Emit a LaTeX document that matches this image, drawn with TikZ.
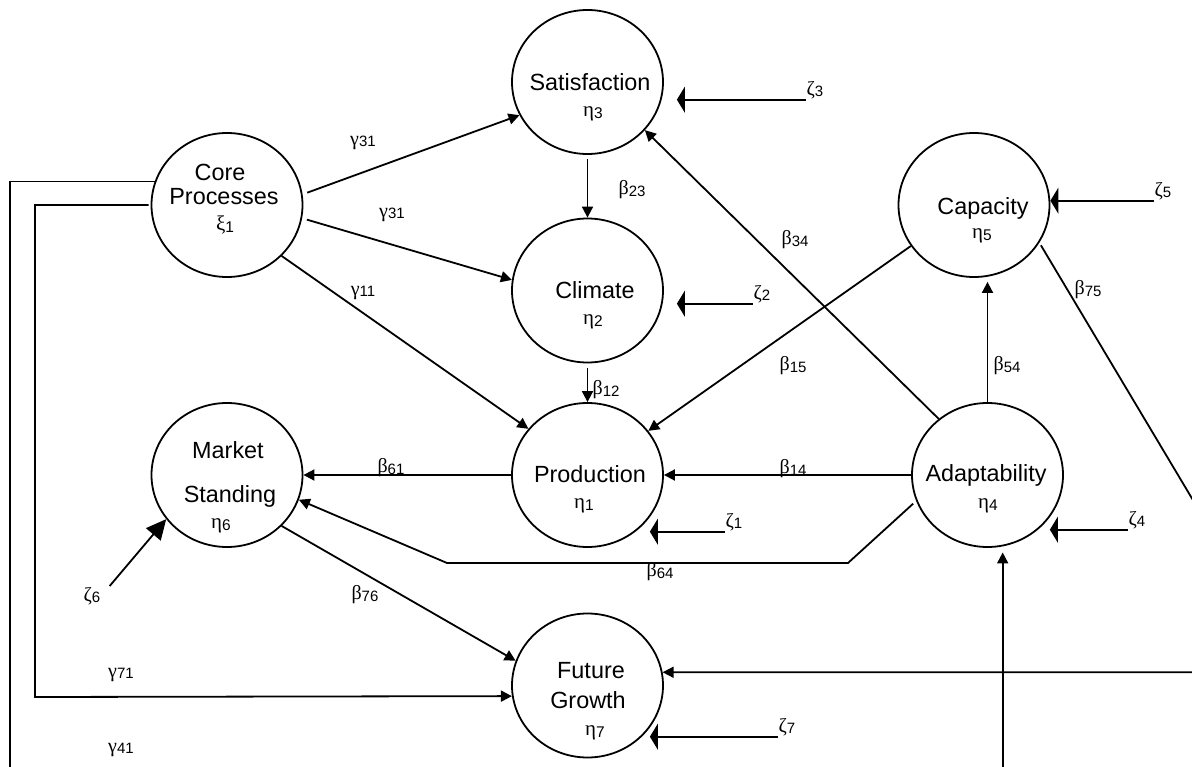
\documentclass[tikz,border=0pt]{standalone}
\usepackage{fontspec}
\setmainfont{Liberation Sans}
\newfontfamily\grkfont{Liberation Serif}
\usetikzlibrary{arrows.meta,shapes.geometric}
\newcommand{\glab}[2]{{\grkfont\fontsize{20}{20}\selectfont #1}\raisebox{-1.5pt}{\fontsize{15}{15}\selectfont #2}}
\newcommand{\gcir}[2]{{\grkfont\fontsize{21}{21}\selectfont #1}\raisebox{-2pt}{\fontsize{15.5}{15.5}\selectfont #2}}
\begin{document}
\begin{tikzpicture}[x=1pt,y=-1pt,line width=1.8pt,
  lv/.style={draw,ellipse,minimum width=151pt,minimum height=144pt,inner sep=0pt},
  tx/.style={font=\fontsize{23.4}{28}\selectfont,inner sep=0pt},
  lab/.style={inner sep=0pt},
  arr/.style={-{Triangle[length=11pt,width=11pt]}},
  zarr/.style={-{Triangle[length=8pt,width=26pt]}},
  zarrb/.style={-{Triangle[length=20pt,width=19pt]}}]
\useasboundingbox (0,0) rectangle (1192,767);
\clip (0,0) rectangle (1192,767);
\fill[white] (0,0) rectangle (1192,767);

% latent variables
\node[lv] (core)  at (227,205)   {};
\node[lv] (sat)   at (587.5,82)  {};
\node[lv] (cli)   at (587.5,290.5) {};
\node[lv] (cap)   at (974,205)   {};
\node[lv] (prod)  at (587.5,475) {};
\node[lv] (adapt) at (987.5,475) {};
\node[lv] (mkt)   at (227,475)   {};
\node[lv] (fut)   at (587.5,685.5) {};

% texts inside
\node[tx] (tcore1) at (220,172) {Core};
\node[tx] (tcore2) at (224,197) {Processes};
\node[lab] (tcore3) at (225,225) {\gcir{ξ}{1}};
\node[tx] (tsat1) at (590,82) {Satisfaction};
\node[lab] (tsat2) at (593,114) {\gcir{η}{3}};
\node[tx] (tcli1) at (595,290) {Climate};
\node[lab] (tcli2) at (593,322) {\gcir{η}{2}};
\node[tx] (tcap1) at (983,208) {Capacity};
\node[lab] (tcap2) at (982,236) {\gcir{η}{5}};
\node[tx] (tprod1) at (590,474) {Production};
\node[lab] (tprod2) at (584,506) {\gcir{η}{1}};
\node[tx] (tad1) at (986,475.5) {Adaptability};
\node[lab] (tad2) at (988,506) {\gcir{η}{4}};
\node[tx] (tmkt1) at (228,450.5) {Market};
\node[tx] (tmkt2) at (230,496) {Standing};
\node[lab] (tmkt3) at (221,525.5) {\gcir{η}{6}};
\node[tx] (tfut1) at (591,671) {Future};
\node[tx] (tfut2) at (588,700) {Growth};
\node[lab] (tfut3) at (595,732.5) {\gcir{η}{7}};

% path labels
\node[lab] (g31a) at (363,143) {\glab{γ}{31}};
\node[lab] (g31b) at (392,215) {\glab{γ}{31}};
\node[lab] (g11) at (363,293) {\glab{γ}{11}};
\node[lab] (b23) at (632,190) {\glab{β}{23}};
\node[lab] (b34) at (795,240) {\glab{β}{34}};
\node[lab] (b15) at (793,366) {\glab{β}{15}};
\node[lab] (b12) at (606,390) {\glab{β}{12}};
\node[lab] (b54) at (1007,366) {\glab{β}{54}};
\node[lab] (b75) at (1088,290) {\glab{β}{75}};
\node[lab] (b14) at (793,469) {\glab{β}{14}};
\node[lab] (b61) at (391,468) {\glab{β}{61}};
\node[lab] (b64) at (660,572) {\glab{β}{64}};
\node[lab] (b76) at (365,595) {\glab{β}{76}};
\node[lab] (g71) at (121,675) {\glab{γ}{71}};
\node[lab] (g41) at (121,750) {\glab{γ}{41}};

% disturbance labels
\node[lab] (z3) at (815,90) {\glab{ζ}{3}};
\node[lab] (z2) at (762,294) {\glab{ζ}{2}};
\node[lab] (z5) at (1163,191) {\glab{ζ}{5}};
\node[lab] (z1) at (734,522) {\glab{ζ}{1}};
\node[lab] (z4) at (1137,520) {\glab{ζ}{4}};
\node[lab] (z7) at (787,727) {\glab{ζ}{7}};
\node[lab] (z6) at (92,596) {\glab{ζ}{6}};

% helper coordinates
\coordinate (rt) at (1215,537);
\coordinate (c64a) at (848,563);
\coordinate (c64b) at (447,563);
\coordinate (cl71) at (35,697);
\coordinate (cl41) at (10,800);

% structural paths
\draw[arr,shorten <=5pt] (core.8) -- (sat.206);
\draw[arr,shorten <=5pt] (core.-10) -- (cli.172);
\draw[arr] (core.-43) -- (prod.142);
\draw[arr,shorten <=4pt] (sat.south) -- (cli.north);
\draw[arr,shorten <=5pt] (cli.south) -- (prod.north);
\draw[arr] (cap.213) -- (prod.36);
\draw[arr] (adapt.131) -- (sat.-40);
\draw[arr,shorten >=4pt] (adapt.north) -- (adapt.north |- cap.south);
\draw[arr,shorten <=3pt] (cap.-30) -- (rt) |- (fut.10);
\draw[arr] (adapt.west) -- (prod.east);
\draw[arr] (prod.west) -- (mkt.east);
\draw[arr,shorten <=4pt] (adapt.200) -- (c64a) -- (c64b) -- (mkt.-19);
\draw[arr] (mkt.-43) -- (fut.161);
\draw[arr,shorten <=2pt] (core.west) -| (cl71) -- (fut.188);
\draw[arr,shorten >=6pt] (core.162) -| (cl41) -| (adapt.-78);

% disturbances
\draw[zarr,shorten >=13pt] (z3.south west) -- (z3.south west -| sat.east);
\draw[zarr,shorten >=13pt] (z2.south west) -- (z2.south west -| cli.east);
\draw[zarr] (z5.south west) -- (z5.south west -| cap.east);
\draw[zarr] (z1.south west) -- (z1.south west -| prod.-34);
\draw[zarr] (z4.south west) -- (z4.south west -| adapt.-34);
\draw[zarr] (z7.south west) -- (z7.south west -| fut.-34);
\draw[zarrb,shorten <=13pt] (z6.east) -- (mkt.216);
\end{tikzpicture}
\end{document}
